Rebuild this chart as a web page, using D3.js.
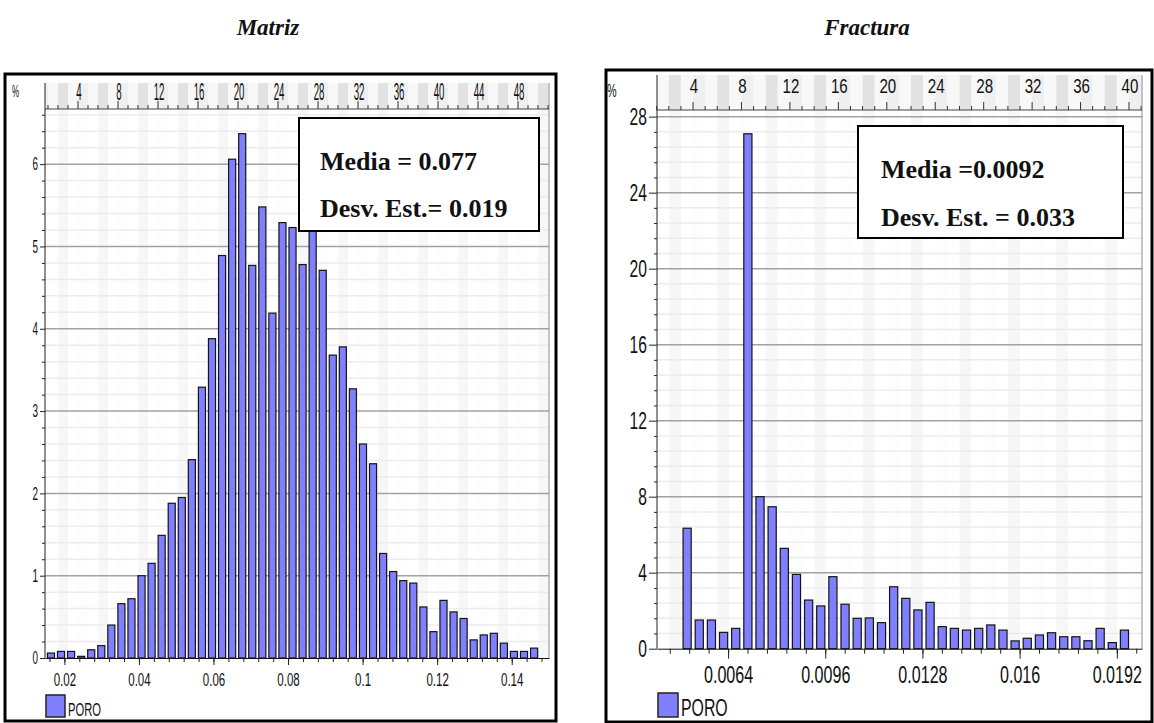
<!DOCTYPE html>
<html lang="es">
<head>
<meta charset="UTF-8">
<title>PORO - Matriz / Fractura</title>
<script src="https://d3js.org/d3.v7.min.js"></script>
<style>
    body { margin: 0; background: #fff; }
    svg text { font-family: "Liberation Sans", Arial, sans-serif; fill: #111; }
    .stat  { font-family: "Liberation Serif", "Times New Roman", serif; font-weight: bold; font-size: 26px; }
    .title { font-family: "Liberation Serif", "Times New Roman", serif; font-weight: bold; font-style: italic; font-size: 23px; }
</style>
</head>
<body>
<svg width="1154" height="723"></svg>
<script>
// ---- data ----
// Matriz: % of cells per porosity bin
var matrizStart = 0.01545, matrizStep = 0.0027;
var matrizPct = [0.06, 0.08, 0.08, 0.02, 0.10, 0.15, 0.40, 0.66, 0.72, 1.00,
                 1.15, 1.49, 1.88, 1.95, 2.41, 3.29, 3.88, 4.89, 6.06, 6.37,
                 4.77, 5.48, 4.19, 5.29, 5.23, 4.78, 5.20, 4.71, 3.68, 3.78,
                 3.27, 2.60, 2.36, 1.27, 1.05, 0.94, 0.91, 0.62, 0.32, 0.70,
                 0.56, 0.48, 0.22, 0.28, 0.30, 0.18, 0.08, 0.08, 0.12];
var matrizXTicks = [0.02, 0.04, 0.06, 0.08, 0.1, 0.12, 0.14];
var matrizYTicks = [0, 1, 2, 3, 4, 5, 6];
var matrizStats  = ["Media = 0.077", "Desv. Est.= 0.019"];

// Fractura
var fracStart = 0.004918, fracStep = 0.0004;
var fracPct = [6.34, 1.51, 1.51, 0.86, 1.07, 27.1, 8.00, 7.47, 5.28, 3.91,
               2.56, 2.25, 3.79, 2.34, 1.60, 1.62, 1.37, 3.26, 2.65, 2.04,
               2.44, 1.16, 1.07, 0.98, 1.07, 1.25, 0.98, 0.41, 0.55, 0.72,
               0.84, 0.63, 0.63, 0.42, 1.07, 0.32, 0.98];
var fracXTicks = [0.0064, 0.0096, 0.0128, 0.016, 0.0192];
var fracYTicks = [0, 4, 8, 12, 16, 20, 24, 28];
var fracStats  = ["Media =0.0092", "Desv. Est. = 0.033"];

var legendName = "PORO";

var svg = d3.select("svg");

// text squeezed horizontally, to imitate the narrow UI font
function narrow(parent, x, y, str, size, sx, anchor) {
    return parent.append("text")
        .attr("transform", "translate(" + x + "," + y + ") scale(" + sx + ",1)")
        .attr("font-size", size)
        .attr("text-anchor", anchor || "start")
        .text(str);
}

function drawPanel(c) {
    var g = svg.append("g");
    var x = d3.scaleLinear().domain(c.xDomain).range([c.left, c.right]);
    var y = d3.scaleLinear().domain([0, c.yMax]).range([c.bottom, c.top]);
    var kx = d3.scaleLinear().domain([0, 1]).range([c.k0, c.k0 + c.kStep]);

    // frame
    g.append("rect")
        .attr("x", c.frame[0]).attr("y", c.frame[1])
        .attr("width", c.frame[2]).attr("height", c.frame[3])
        .attr("fill", "#fff").attr("stroke", "#000").attr("stroke-width", 3);

    // ruler band + faint plot columns
    var rulerColors = ["#efefef", "#f8f8f8", "#e2e2e2", "#f8f8f8"];
    var plotColors  = ["#fdfdfd", "#ffffff", "#f7f7f7", "#ffffff"];
    d3.range(0, c.kMax + 1).forEach(function (k) {
        var x0 = Math.max(c.left, kx(k)), x1 = Math.min(c.right, kx(k + 1));
        if (x1 <= x0) return;
        g.append("rect").attr("x", x0).attr("y", c.rulerTop)
            .attr("width", x1 - x0).attr("height", c.top - c.rulerTop)
            .attr("fill", rulerColors[k % 4]);
        g.append("rect").attr("x", x0).attr("y", c.top)
            .attr("width", x1 - x0).attr("height", c.bottom - c.top)
            .attr("fill", plotColors[k % 4]);
    });

    // grid
    var minorY = d3.range(0, c.yMax, c.yMinor).filter(function (v) {
        return c.yTicks.indexOf(+v.toFixed(3)) < 0;
    });
    g.append("g").selectAll("line").data(minorY).join("line")
        .attr("x1", c.left).attr("x2", c.right)
        .attr("y1", function (d) { return y(d); }).attr("y2", function (d) { return y(d); })
        .attr("stroke", "#ececec").attr("stroke-width", 1.5);
    g.append("g").selectAll("line").data(c.yTicks.filter(function (d) { return d > 0; })).join("line")
        .attr("x1", c.left).attr("x2", c.right)
        .attr("y1", function (d) { return y(d); }).attr("y2", function (d) { return y(d); })
        .attr("stroke", "#a2a2a2").attr("stroke-width", 1.5);

    // plot right border
    g.append("line").attr("x1", c.right).attr("x2", c.right)
        .attr("y1", c.rulerTop).attr("y2", c.bottom)
        .attr("stroke", "#8a8a8a").attr("stroke-width", 1);

    // bars
    g.append("g").selectAll("rect").data(c.values).join("rect")
        .attr("x", function (d, i) { return x(c.start + i * c.step); })
        .attr("width", function (d, i) { return x(c.start + (i + 1) * c.step) - x(c.start + i * c.step) - c.gap; })
        .attr("y", function (d) { return y(d); })
        .attr("height", function (d) { return y(0) - y(d); })
        .attr("fill", "#8080ff").attr("stroke", "#151515").attr("stroke-width", 1.2);

    // ruler ticks and numbers
    g.append("line").attr("x1", c.left).attr("x2", c.right)
        .attr("y1", c.top).attr("y2", c.top).attr("stroke", "#444");
    d3.range(1, c.kMax + 1).forEach(function (k) {
        var len = k % 4 === 0 ? 8 : 4;
        g.append("line").attr("x1", kx(k)).attr("x2", kx(k))
            .attr("y1", c.top).attr("y2", c.top - len).attr("stroke", "#333");
        if (k % 4 === 0 && k <= c.kLabelMax)
            narrow(g, kx(k) + 1, c.rulerBase, k, c.rulerFont, c.rulerSx, "middle");
    });

    // y axis
    g.append("line").attr("x1", c.left).attr("x2", c.left)
        .attr("y1", c.rulerTop).attr("y2", c.bottom).attr("stroke", "#222");
    var yMinorAxis = g.append("g").attr("transform", "translate(" + c.left + ",0)")
        .call(d3.axisLeft(y).tickValues(minorY).tickSize(3).tickFormat(""));
    yMinorAxis.select(".domain").remove();
    var yAxis = g.append("g").attr("transform", "translate(" + c.left + ",0)")
        .call(d3.axisLeft(y).tickValues(c.yTicks).tickSize(c.yTickLen).tickPadding(2)
            .tickFormat(function (d) { return String(d); }));
    yAxis.select(".domain").remove();
    yAxis.attr("font-family", null).attr("font-size", null);
    yAxis.selectAll("text")
        .attr("font-size", c.yFont)
        .attr("x", -(c.yTickLen + 2) / c.ySx)
        .attr("transform", "scale(" + c.ySx + ",1)");
    g.selectAll(".tick line").attr("stroke", "#222");

    // x axis
    var xMinor = d3.range(c.xMinorStart, c.xDomain[1], c.xMinorStep);
    var xMinorAxis = g.append("g").attr("transform", "translate(0," + c.bottom + ")")
        .call(d3.axisBottom(x).tickValues(xMinor).tickSize(c.xMinorLen).tickSizeOuter(0).tickFormat(""));
    xMinorAxis.select(".domain").attr("stroke", "#111");
    var xAxis = g.append("g").attr("transform", "translate(0," + c.bottom + ")")
        .call(d3.axisBottom(x).tickValues(c.xTicks).tickSize(c.xMajorLen).tickPadding(8)
            .tickFormat(function (d) { return String(+d.toFixed(4)); }));
    xAxis.select(".domain").remove();
    xAxis.attr("font-family", null).attr("font-size", null);
    xAxis.selectAll("text")
        .attr("font-size", c.xFont)
        .attr("transform", "scale(" + c.xSx + ",1)");
    g.selectAll(".tick line").attr("stroke", "#222");

    // percent sign
    narrow(g, c.pct[0], c.pct[1], "%", c.pct[2], c.pct[3]);

    // stats box
    g.append("rect")
        .attr("x", c.box[0]).attr("y", c.box[1]).attr("width", c.box[2]).attr("height", c.box[3])
        .attr("fill", "#fff").attr("stroke", "#000").attr("stroke-width", 2);
    c.stats.forEach(function (s, i) {
        g.append("text").attr("class", "stat")
            .attr("x", c.statX).attr("y", c.statY[i]).text(s);
    });

    // legend
    g.append("rect")
        .attr("x", c.legend[0]).attr("y", c.legend[1]).attr("width", c.legend[2]).attr("height", c.legend[3])
        .attr("fill", "#8080ff").attr("stroke", "#222").attr("stroke-width", 1.5);
    narrow(g, c.legend[0] + c.legend[2] + 3, c.legend[1] + c.legend[3] - 1, legendName, c.legendFont, c.legendSx);

    // title
    g.append("text").attr("class", "title")
        .attr("x", c.title[1]).attr("y", 35).attr("text-anchor", "middle").text(c.title[0]);
}

drawPanel({
    title: ["Matriz", 268], stats: matrizStats,
    frame: [5, 74, 551, 647],
    left: 45, right: 549, top: 109, bottom: 658, rulerTop: 83, rulerBase: 100,
    xDomain: [0.0148, 0.15], yMax: 6.67,
    values: matrizPct, start: matrizStart, step: matrizStep, gap: 3,
    yTicks: matrizYTicks, yMinor: 0.2, yTickLen: 5,
    xTicks: matrizXTicks, xMinorStart: 0.016, xMinorStep: 0.004, xMinorLen: 4, xMajorLen: 7,
    k0: 38, kStep: 10, kMax: 51, kLabelMax: 48,
    yFont: 18, xFont: 18, ySx: 0.55, xSx: 0.64, rulerFont: 23, rulerSx: 0.42,
    pct: [12, 97, 16, 0.5],
    box: [299, 118, 240, 113], statX: 320, statY: [170, 217],
    legend: [46, 695, 19, 22], legendFont: 19, legendSx: 0.59
});

drawPanel({
    title: ["Fractura", 867], stats: fracStats,
    frame: [606, 70, 546, 652],
    left: 657, right: 1142, top: 110, bottom: 648.7, rulerTop: 75, rulerBase: 93,
    xDomain: [0.00406, 0.02003], yMax: 28.35,
    values: fracPct, start: fracStart, step: fracStep, gap: 4,
    yTicks: fracYTicks, yMinor: 0.8, yTickLen: 8,
    xTicks: fracXTicks, xMinorStart: 0.00448, xMinorStep: 0.00064, xMinorLen: 5, xMajorLen: 10,
    k0: 644.6, kStep: 12.11, kMax: 41, kLabelMax: 40,
    yFont: 23, xFont: 23, ySx: 0.68, xSx: 0.7, rulerFont: 21, rulerSx: 0.72,
    pct: [607, 97, 18, 0.6],
    box: [858, 126, 265, 112], statX: 881, statY: [178, 226],
    legend: [658, 693, 20, 24], legendFont: 23, legendSx: 0.69
});
</script>
</body>
</html>
